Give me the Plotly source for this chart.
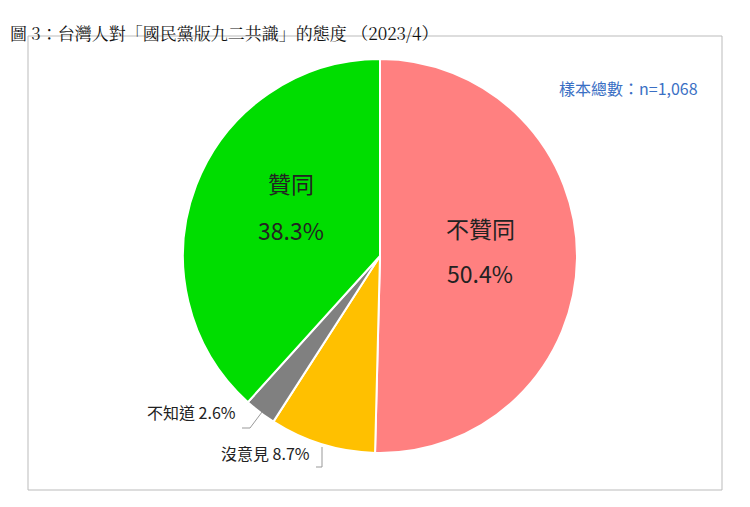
import plotly.graph_objects as go

labels = ["不贊同", "沒意見", "不知道", "贊同"]
values = [50.4, 8.7, 2.6, 38.3]
colors = ["#FF8080", "#FFC000", "#808080", "#00DD00"]

W, H = 742, 499
OFF = 8
def px(x, y): return (x - OFF) / W, 1 - (y - OFF) / H

x0, y0 = px(183, 59); x1, y1 = px(577, 453)
fig = go.Figure(go.Pie(
    labels=labels, values=values, sort=False, direction="clockwise", rotation=0,
    marker=dict(colors=colors, line=dict(color="white", width=2)),
    textinfo="none", hoverinfo="label+percent",
    domain=dict(x=[x0, x1], y=[y1, y0]),
))
f = "Noto Sans CJK TC"
ann = []
def add(x, y, t, size, color="#222", xa="center"):
    ax, ay = px(x, y)
    ann.append(dict(x=ax, y=ay, xref="paper", yref="paper", text=t, showarrow=False,
                    font=dict(family=f, size=size, color=color), xanchor=xa))
add(480, 228, "不贊同", 23); add(480, 273, f"{values[0]}%", 23)
add(291, 183, "贊同", 23); add(291, 230, f"{values[3]}%", 23)
add(238, 426, f"不知道 {values[2]}%", 16, xa="right")
add(312, 467, f"沒意見 {values[1]}%", 16, xa="right")
add(700, 74, "樣本總數：n=1,068", 16, "#3A6FC4", "right")
tx, ty = px(8, 18)
ann.append(dict(x=tx, y=ty, xref="paper", yref="paper", showarrow=False, xanchor="left",
                text="圖 3：台灣人對「國民黨版九二共識」的態度 （2023/4）",
                font=dict(family="Noto Serif CJK TC, Noto Sans CJK TC", size=17, color="#111")))
def seg(xa, ya, xb, yb):
    a0, b0 = px(xa, ya); a1, b1 = px(xb, yb)
    return dict(type="line", xref="paper", yref="paper", x0=a0, y0=b0, x1=a1, y1=b1,
                line=dict(color="#999", width=1))
rx0, ry0 = px(28, 36); rx1, ry1 = px(722, 490)
shapes = [seg(242, 428, 250, 428), seg(250, 428, 262, 412),
          seg(316, 467, 322, 467), seg(322, 467, 322, 447),
          dict(type="rect", xref="paper", yref="paper", x0=rx0, x1=rx1,
               y0=ry1, y1=ry0, line=dict(color="#BBBBBB", width=1))]
fig.update_layout(width=W, height=H, margin=dict(l=0, r=0, t=0, b=0), showlegend=False,
                  paper_bgcolor="white", annotations=ann, shapes=shapes)
fig.write_html("out.html")
